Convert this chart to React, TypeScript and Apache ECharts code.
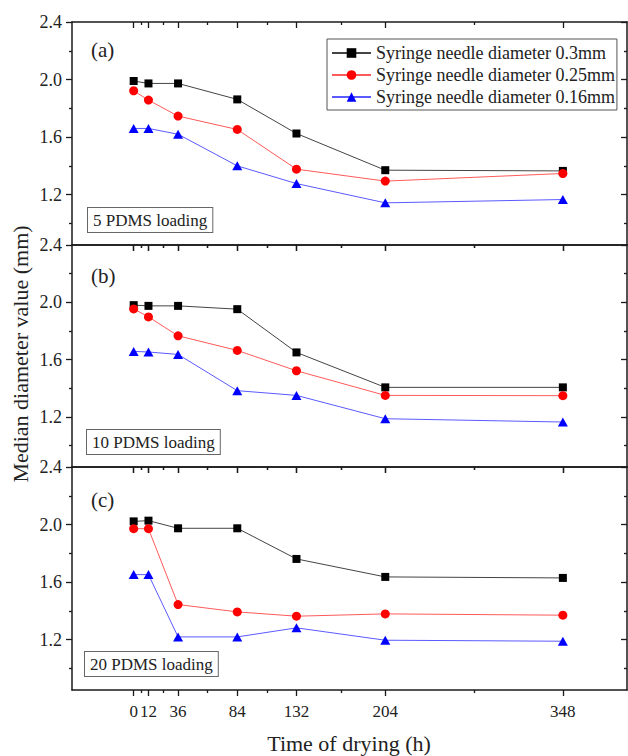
import React, { useEffect, useRef } from "react";
import * as echarts from "echarts";

const times = [0, 12, 36, 84, 132, 204, 348];
const xMajorTicks = [0, 12, 36, 84, 132, 204, 348];
const xMinorTicks = [6, 24, 60, 108, 168, 276];
const yMajorTicks = [1.2, 1.6, 2.0, 2.4];
const yMinorTicks = [1.0, 1.4, 1.8, 2.2];

const seriesNames = [
  "Syringe needle diameter 0.3mm",
  "Syringe needle diameter 0.25mm",
  "Syringe needle diameter 0.16mm",
];
const panelLabels = ["(a)", "(b)", "(c)"];
const loadingLabels = ["5 PDMS loading", "10 PDMS loading", "20 PDMS loading"];

const a03 = [1.99, 1.973, 1.973, 1.862, 1.625, 1.37, 1.365];
const a025 = [1.922, 1.857, 1.746, 1.653, 1.377, 1.294, 1.347];
const a016 = [1.66, 1.66, 1.62, 1.4, 1.277, 1.143, 1.166];

const b03 = [1.98, 1.975, 1.975, 1.952, 1.65, 1.406, 1.406];
const b025 = [1.954, 1.898, 1.766, 1.664, 1.522, 1.35, 1.348];
const b016 = [1.657, 1.653, 1.636, 1.383, 1.35, 1.187, 1.164];

const c03 = [2.022, 2.027, 1.974, 1.974, 1.761, 1.636, 1.629];
const c025 = [1.971, 1.971, 1.444, 1.393, 1.363, 1.379, 1.37];
const c016 = [1.652, 1.652, 1.219, 1.219, 1.282, 1.196, 1.189];

const panels = [
  [a03, a025, a016],
  [b03, b025, b016],
  [c03, c025, c016],
];

const X_MIN = -50;
const X_MAX = 400;
const Y_MIN = 0.85;
const Y_MAX = 2.4;

const FONT = '"Liberation Serif", "Times New Roman", serif';
const AX = "#1a1a1a";

export default function App() {
  const ref = useRef<HTMLDivElement>(null);

  useEffect(() => {
    document.body.style.margin = "0";
    if (!ref.current) return;
    const chart = echarts.init(ref.current, undefined, { renderer: "svg" });

    const gridTops = [22, 245, 467];
    const gridHeights = [223, 222, 223];
    const grids = gridTops.map((t, i) => ({
      left: 72,
      top: t,
      width: 555,
      height: gridHeights[i],
    }));

    const lineStyle = { color: AX, width: 1.5 };
    const xAxes: any[] = [];
    const yAxes: any[] = [];
    for (let g = 0; g < 3; g++) {
      const mkX = (position: string, ticks: number[], len: number, inside: boolean, showLine: boolean, showLabel: boolean) => ({
        type: "value",
        gridIndex: g,
        min: X_MIN,
        max: X_MAX,
        position,
        axisLine: { show: showLine, onZero: false, lineStyle },
        axisTick: { show: true, inside, length: len, customValues: ticks, lineStyle: { color: AX, width: 1.3 } },
        axisLabel: {
          show: showLabel,
          customValues: ticks,
          color: "#222",
          fontFamily: FONT,
          fontSize: 17,
          margin: 13,
        },
        splitLine: { show: false },
      });
      xAxes.push(mkX("bottom", xMajorTicks, 6, false, true, g === 2));
      xAxes.push(mkX("bottom", xMinorTicks, 3, false, false, false));
      xAxes.push(mkX("top", xMajorTicks, 6, true, true, false));
      xAxes.push(mkX("top", xMinorTicks, 3, true, false, false));

      const mkY = (position: string, ticks: number[], len: number, inside: boolean, showLine: boolean, showLabel: boolean) => ({
        type: "value",
        gridIndex: g,
        min: Y_MIN,
        max: Y_MAX,
        position,
        axisLine: { show: showLine, onZero: false, lineStyle },
        axisTick: { show: true, inside, length: len, customValues: ticks, lineStyle: { color: AX, width: 1.3 } },
        axisLabel: {
          show: showLabel,
          customValues: ticks,
          color: "#222",
          fontFamily: FONT,
          fontSize: 18,
          margin: 10,
          formatter: (v: number) => v.toFixed(1),
        },
        splitLine: { show: false },
      });
      yAxes.push(mkY("left", yMajorTicks, 6, false, true, true));
      yAxes.push(mkY("left", yMinorTicks, 3, false, false, false));
      yAxes.push(mkY("right", yMajorTicks, 6, true, true, false));
      yAxes.push(mkY("right", yMinorTicks, 3, true, false, false));
    }

    const markerColors = ["#000000", "#ff0000", "#0000ff"];
    const lineColors = ["#444444", "#ff5a5a", "#5a5aff"];
    const symbols = ["rect", "circle", "triangle"];
    const symbolSizes: any[] = [8, 9, [10, 9]];

    const series: any[] = [];
    panels.forEach((vals, g) => {
      vals.forEach((arr, s) => {
        series.push({
          type: "line",
          name: seriesNames[s],
          xAxisIndex: g * 4,
          yAxisIndex: g * 4,
          data: times.map((t, i) => [t, arr[i]]),
          symbol: symbols[s],
          symbolSize: symbolSizes[s],
          showAllSymbol: true,
          itemStyle: { color: markerColors[s] },
          lineStyle: { color: lineColors[s], width: 1 },
          emphasis: { disabled: true },
        });
      });
    });

    const panelLabelY = [50, 276, 500];
    const boxTops = [208, 430, 652];
    const boxLefts = [88, 87, 85];
    const graphic: any[] = [];
    panelLabels.forEach((lab, i) => {
      graphic.push({
        type: "text",
        x: 91,
        y: panelLabelY[i],
        style: {
          text: lab,
          font: `21px ${FONT}`,
          fill: "#222",
          align: "left",
          verticalAlign: "middle",
        },
      });
    });
    loadingLabels.forEach((lab, i) => {
      graphic.push({
        type: "text",
        x: boxLefts[i],
        y: boxTops[i],
        style: {
          text: lab,
          font: `17px ${FONT}`,
          fill: "#222",
          align: "left",
          verticalAlign: "top",
          padding: [4, 5, 3, 5],
          borderColor: "#666",
          borderWidth: 1,
          backgroundColor: "#fff",
        },
      });
    });
    graphic.push({
      type: "text",
      x: 20,
      y: 354,
      rotation: Math.PI / 2,
      style: {
        text: "Median diameter value (mm)",
        font: `22px ${FONT}`,
        fill: "#222",
        align: "center",
        verticalAlign: "middle",
      },
    });
    graphic.push({
      type: "text",
      x: 349,
      y: 743,
      style: {
        text: "Time of drying (h)",
        font: `22px ${FONT}`,
        fill: "#222",
        align: "center",
        verticalAlign: "middle",
      },
    });

    chart.setOption({
      animation: false,
      backgroundColor: "#ffffff",
      grid: grids,
      xAxis: xAxes,
      yAxis: yAxes,
      series,
      legend: {
        data: seriesNames,
        orient: "vertical",
        left: 327,
        top: 39,
        padding: [5, 2, 4, 4],
        itemWidth: 39,
        itemHeight: 12,
        itemGap: 4,
        borderColor: "#555",
        borderWidth: 1,
        backgroundColor: "#fff",
        selectedMode: false,
        textStyle: { fontFamily: FONT, fontSize: 18, lineHeight: 18, color: "#222" },
      },
      graphic,
    });

    return () => chart.dispose();
  }, []);

  return <div ref={ref} style={{ width: 628, height: 756 }} />;
}
